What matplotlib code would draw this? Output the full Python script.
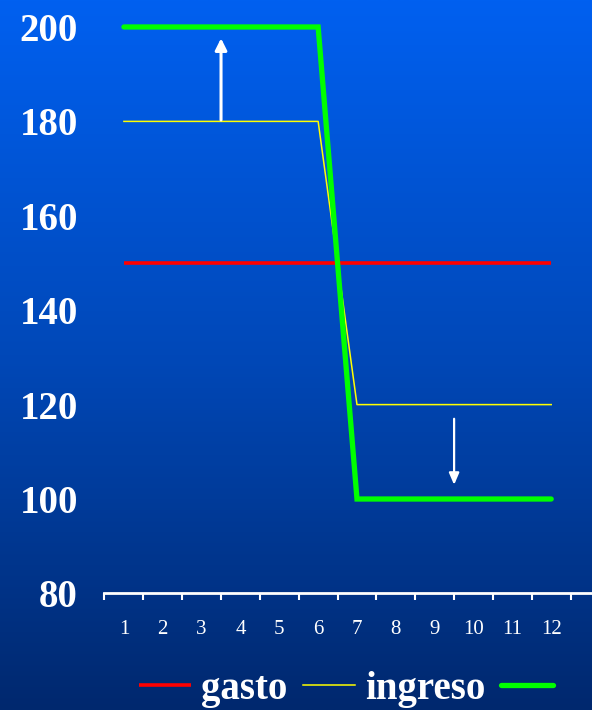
import numpy as np
import matplotlib
matplotlib.use("Agg")
import matplotlib.pyplot as plt
from matplotlib.colors import LinearSegmentedColormap

# periods and the three series
periodos = list(range(1, 13))
gasto = [150] * 12
ingreso = [180] * 6 + [120] * 6
ingreso_total = [200] * 6 + [100] * 6
y_ticks = [80, 100, 120, 140, 160, 180, 200]

plt.rcParams['font.family'] = ['Liberation Serif', 'DejaVu Serif']

fig = plt.figure(figsize=(5.92, 7.10), dpi=100)

# background gradient, bright blue on top to navy at the bottom
bg = fig.add_axes([0, 0, 1, 1], zorder=-10)
grad = LinearSegmentedColormap.from_list("fondo", ["#00286e", "#0048b8", "#0060f0"])
bg.imshow(np.linspace(0, 1, 256).reshape(-1, 1), aspect='auto', cmap=grad,
          origin='lower', extent=[0, 1, 0, 1])
bg.set_axis_off()

ax = fig.add_axes([0.1765, 0.1642, 1 - 0.1765, 0.962 - 0.1642])
ax.patch.set_alpha(0)

ax.plot(periodos, gasto, color='#ff0000', lw=2.6, solid_capstyle='butt',
        clip_on=False, label='gasto', zorder=3)
ax.plot(periodos, ingreso, color='#ffff00', lw=1.1, clip_on=False,
        label='ingreso', zorder=4)
ax.plot(periodos, ingreso_total, color='#00ff00', lw=3.8, clip_on=False,
        label=' ', zorder=5, solid_capstyle='round', solid_joinstyle='miter')

# white arrows showing the shift
ax.annotate("", xy=(3.5, 197.6), xytext=(3.5, 180.3),
            arrowprops=dict(arrowstyle="-|>,head_length=0.7,head_width=0.35",
                            color='white', lw=2.2, shrinkA=0, shrinkB=0),
            zorder=6)
ax.annotate("", xy=(9.5, 103.0), xytext=(9.5, 117.0),
            arrowprops=dict(arrowstyle="-|>,head_length=0.7,head_width=0.3",
                            color='white', lw=1.6, shrinkA=0, shrinkB=0),
            zorder=6)

ax.set_xlim(0.5, 13.05)
ax.set_ylim(80, 200)

ax.set_xticks(np.arange(0.5, 13.5, 1))
ax.set_xticks(periodos, minor=True)
ax.set_xticklabels([])
ax.set_xticklabels([str(p) for p in periodos], minor=True)
ax.tick_params(axis='x', which='major', direction='out', length=5, width=1.5,
               color='white')
ax.tick_params(axis='x', which='minor', length=0, pad=19, labelsize=15,
               labelcolor='white')

ax.set_yticks(y_ticks)
ax.set_yticklabels([str(v) for v in y_ticks], fontsize=28, fontweight='bold',
                   color='white')
ax.tick_params(axis='y', length=0, pad=19)

for side in ['top', 'right', 'left']:
    ax.spines[side].set_visible(False)
ax.spines['bottom'].set_color('white')
ax.spines['bottom'].set_linewidth(2)

leg = ax.legend(loc='center', bbox_to_anchor=(0.601, 0.029),
                bbox_transform=fig.transFigure, ncol=3, frameon=False,
                handlelength=1.35, handletextpad=0.25, columnspacing=0.4,
                prop={'family': 'Liberation Serif', 'weight': 'bold', 'size': 28})
for t in leg.get_texts():
    t.set_color('white')

fig.savefig('out.png', dpi=100)
